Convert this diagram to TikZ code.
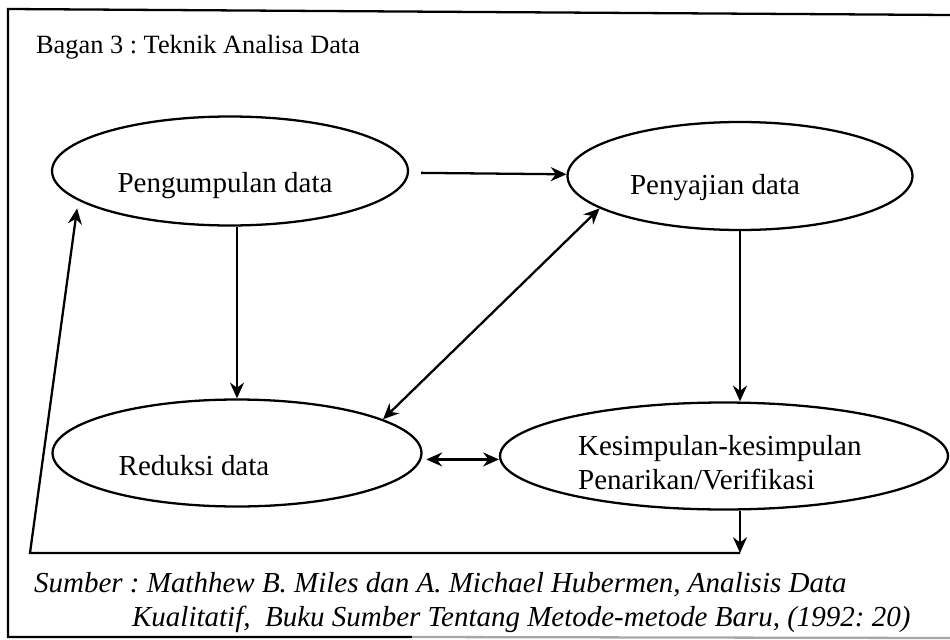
\documentclass[tikz,border=0pt]{standalone}
\usepackage{fontspec}
\setmainfont{Liberation Serif}
\frenchspacing
\usetikzlibrary{shapes.geometric,arrows.meta}

\begin{document}
\begin{tikzpicture}[x=0.02cm,y=-0.02cm,line width=1.3pt,
        >={Stealth[length=9pt,width=8pt,inset=3pt]},
        oval/.style={draw,ellipse,inner sep=0pt},
        txt/.style={font=\fontsize{16.5}{19.5}\selectfont,inner sep=0pt}]
        \useasboundingbox (0,0) rectangle (950,639);

        % frame
        \draw (950,15) -- (8,9) -- (8,637) -- (412,637);
        \draw[black!35] (412,637) -- (950,638);

        % title
        \node[txt,font=\fontsize{15}{18}\selectfont,anchor=base west] (title) at (35,53) {Bagan 3 : Teknik Analisa Data};

        % ellipses
        \node[oval,minimum width=7.12cm,minimum height=2.18cm] (peng) at (230,171) {};
        \node[oval,minimum width=6.9cm,minimum height=2.16cm] (peny) at (740,176) {};
        \node[oval,minimum width=7.38cm,minimum height=2.14cm] (red) at (237,453) {};
        \node[oval,minimum width=8.96cm,minimum height=2.14cm] (kes) at (724,456) {};

        \node[txt] (pengtxt) at (225,186) {Pengumpulan data};
        \node[txt] (penytxt) at (715,188) {Penyajian data};
        \node[txt] (redtxt) at (194,466) {Reduksi data};
        \node[txt,align=left,anchor=north west] (kestxt) at (577,434) {Kesimpulan-kesimpulan\\Penarikan/Verifikasi};

        % arrows
        \draw[->,shorten <=0.24cm] (peng) -- (peny);
        \draw[->] (red.north |- peng.south) -- (red.north);
        \draw[->] (peny.south) -- (peny.south |- kes.north);
        \draw[<->] (red.13) -- (peny.193);
        \draw[<->,shorten <=0.1cm] (red.-2.5) -- (red.-2.5 -| kes.west);

        % feedback loop
        \coordinate (fbr) at (740,553);
        \coordinate (fbl) at (30,553);
        \draw[->] (kes.south -| fbr) -- (fbr);
        \draw[->,shorten >=0.16cm] (fbr) -- (fbl) -- (peng.191);

        % source
        \node[txt,font=\fontsize{16.5}{19.5}\selectfont\itshape,anchor=base west] (src1) at (33,592) {Sumber : Mathhew B. Miles dan A. Michael Hubermen, Analisis Data};
        \node[txt,font=\fontsize{16.5}{19.5}\selectfont\itshape,anchor=base west] (src2) at (131,626) {Kualitatif,~ Buku Sumber Tentang Metode-metode Baru, (1992: 20)};
    \end{tikzpicture}
\end{document}
